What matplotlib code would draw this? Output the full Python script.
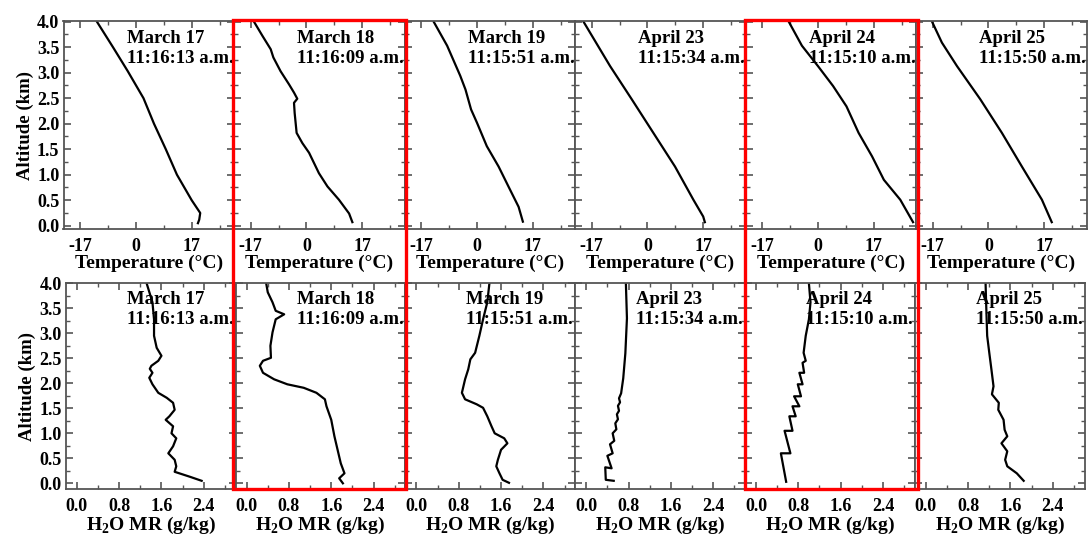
import matplotlib
matplotlib.use("Agg")
import matplotlib.pyplot as plt
from matplotlib.patches import Rectangle
from matplotlib.ticker import MultipleLocator, FixedLocator, FormatStrFormatter


plt.rcParams["font.family"] = ["Liberation Serif", "DejaVu Serif"]
plt.rcParams["font.weight"] = "bold"
plt.rcParams["axes.labelweight"] = "bold"
plt.rcParams["axes.unicode_minus"] = False
plt.rcParams["mathtext.fontset"] = "custom"
plt.rcParams["mathtext.rm"] = "Liberation Serif:bold"
plt.rcParams["mathtext.bf"] = "Liberation Serif:bold"

dates = ["March 17", "March 18", "March 19", "April 23", "April 24", "April 25"]
times = ["11:16:13 a.m.", "11:16:09 a.m.", "11:15:51 a.m.", "11:15:34 a.m.", "11:15:10 a.m.", "11:15:50 a.m."]

# temperature profiles (altitude km, temperature C)
alt_t_mar17 = [0.05, 0.12, 0.25, 0.5, 1.0, 1.5, 2.0, 2.5, 3.03, 3.5, 4.0]
temp_mar17 = [18.9, 19.3, 19.6, 17.0, 12.5, 9.1, 5.5, 2.3, -2.5, -7.0, -11.9]

alt_t_mar18 = [0.07, 0.24, 0.51, 0.77, 1.03, 1.43, 1.62, 1.82, 2.21, 2.41, 2.49, 2.61, 2.77, 3.03, 3.30, 3.46, 3.72, 4.0]
temp_mar18 = [14.0, 13.0, 9.9, 6.4, 3.8, 0.8, -1.25, -3.0, -3.6, -3.8, -2.8, -3.8, -5.3, -7.9, -10.1, -10.9, -13.4, -16.0]

alt_t_mar19 = [0.08, 0.37, 0.77, 1.16, 1.56, 2.02, 2.28, 2.67, 2.94, 3.53, 4.0]
temp_mar19 = [14.0, 12.7, 9.6, 6.6, 3.0, 0.0, -1.8, -3.5, -5.1, -9.1, -13.2]

alt_t_apr23 = [0.07, 0.18, 0.51, 1.16, 1.82, 2.48, 3.13, 4.0]
temp_apr23 = [17.5, 17.0, 14.0, 8.4, 1.8, -4.8, -11.4, -19.5]

alt_t_apr24 = [0.07, 0.51, 0.90, 1.36, 1.82, 2.34, 2.74, 3.13, 3.53, 4.0]
temp_apr24 = [29.0, 25.1, 20.1, 16.5, 12.4, 8.7, 4.6, 0.0, -4.9, -8.9]

alt_t_apr25 = [0.07, 0.51, 1.16, 1.82, 2.48, 3.13, 3.59, 4.0]
temp_apr25 = [19.3, 16.3, 10.2, 4.1, -2.5, -9.6, -14.2, -17.2]

# water vapour mixing ratio profiles (altitude km, g/kg)
alt_w_mar17 = [0.05, 0.13, 0.23, 0.34, 0.47, 0.60, 0.74, 0.90, 1.00, 1.14, 1.27, 1.34, 1.47, 1.61, 1.71, 1.81,
               1.98, 2.11, 2.21, 2.29, 2.35, 2.45, 2.55, 2.71, 2.95, 3.28, 3.62, 4.0]
mr_mar17 = [2.36, 2.14, 1.85, 1.88, 1.85, 1.73, 1.82, 1.88, 1.79, 1.82, 1.68, 1.75, 1.85, 1.82, 1.70, 1.54,
            1.43, 1.37, 1.43, 1.38, 1.41, 1.54, 1.60, 1.51, 1.46, 1.46, 1.43, 1.32]

alt_w_mar18 = [0.0, 0.10, 0.20, 0.40, 0.67, 0.94, 1.27, 1.54, 1.68, 1.81, 1.91, 1.98, 2.08, 2.21, 2.35, 2.45,
               2.51, 2.75, 3.02, 3.28, 3.38, 3.45, 3.62, 3.82, 4.0]
mr_mar18 = [1.82, 1.75, 1.85, 1.78, 1.72, 1.66, 1.60, 1.51, 1.48, 1.32, 1.08, 0.77, 0.52, 0.31, 0.25, 0.31,
            0.46, 0.45, 0.49, 0.55, 0.71, 0.55, 0.49, 0.40, 0.37]

alt_w_mar19 = [0.01, 0.07, 0.20, 0.34, 0.47, 0.67, 0.80, 0.90, 1.00, 1.14, 1.34, 1.51, 1.58, 1.68, 1.81, 2.08,
               2.28, 2.48, 2.61, 2.95, 3.28, 3.62, 4.0]
mr_mar19 = [1.75, 1.63, 1.57, 1.51, 1.54, 1.60, 1.72, 1.66, 1.48, 1.42, 1.34, 1.26, 1.14, 0.92, 0.86, 0.92,
            0.98, 1.02, 1.11, 1.19, 1.26, 1.34, 1.38]

alt_w_apr23 = [0.05, 0.07, 0.32, 0.30, 0.55, 0.60, 0.78, 0.85, 1.00, 1.08, 1.20, 1.28, 1.38, 1.45, 1.55, 1.62,
               1.70, 1.80, 2.10, 2.60, 3.30, 4.0]
mr_apr23 = [0.52, 0.37, 0.36, 0.48, 0.40, 0.50, 0.45, 0.53, 0.50, 0.57, 0.55, 0.60, 0.58, 0.62, 0.60, 0.64,
            0.62, 0.66, 0.70, 0.74, 0.77, 0.75]

alt_w_apr24 = [0.03, 0.60, 0.60, 1.05, 1.05, 1.34, 1.34, 1.54, 1.54, 1.74, 1.74, 1.98, 1.98, 2.21, 2.21, 2.41,
               2.45, 2.61, 2.95, 3.28, 3.62, 4.0]
mr_apr24 = [0.57, 0.47, 0.65, 0.54, 0.69, 0.63, 0.75, 0.69, 0.82, 0.72, 0.85, 0.79, 0.88, 0.82, 0.91, 0.88,
            0.94, 0.90, 0.94, 1.00, 1.03, 1.00]

alt_w_apr25 = [0.05, 0.20, 0.34, 0.47, 0.64, 0.80, 0.94, 1.07, 1.27, 1.47, 1.61, 1.78, 1.94, 2.28, 2.61, 2.95,
               3.62, 4.0]
mr_apr25 = [1.85, 1.72, 1.54, 1.50, 1.54, 1.43, 1.54, 1.49, 1.47, 1.37, 1.38, 1.25, 1.28, 1.24, 1.20, 1.16,
            1.14, 1.13]

temp_profiles = [(alt_t_mar17, temp_mar17), (alt_t_mar18, temp_mar18), (alt_t_mar19, temp_mar19),
                 (alt_t_apr23, temp_apr23), (alt_t_apr24, temp_apr24), (alt_t_apr25, temp_apr25)]
mr_profiles = [(alt_w_mar17, mr_mar17), (alt_w_mar18, mr_mar18), (alt_w_mar19, mr_mar19),
               (alt_w_apr23, mr_apr23), (alt_w_apr24, mr_apr24), (alt_w_apr25, mr_apr25)]

temp_ticks = [-17, 0, 17]
mr_ticks = [0.0, 0.8, 1.6, 2.4]

W, H = 1091, 538
fig = plt.figure(figsize=(W / 100, H / 100), dpi=100)

spine_color = "#555555"


def style_axes(ax, first):
    for s in ax.spines.values():
        s.set_color(spine_color)
        s.set_linewidth(1.3)
    ax.tick_params(which="both", direction="in", top=True, right=True, color=spine_color,
                   labelsize=13, pad=6)
    ax.tick_params(axis="y", pad=3)
    ax.tick_params(which="major", length=5, width=1.2)
    ax.tick_params(which="minor", length=3, width=1.0)
    ax.yaxis.set_major_locator(MultipleLocator(0.5))
    ax.yaxis.set_minor_locator(MultipleLocator(0.25))
    ax.yaxis.set_major_formatter(FormatStrFormatter("%.1f"))
    if first:
        ax.set_ylabel("Altitude (km)", fontsize=13.5, labelpad=2)
    else:
        ax.tick_params(labelleft=False)


for i in range(6):
    # temperature row
    x0 = 63.5 + i * 170.5
    ax = fig.add_axes([x0 / W, 1 - 229.3 / H, 170.5 / W, 208.6 / H])
    alt, val = temp_profiles[i]
    ax.plot(val, alt, color="black", lw=1.6)
    ax.set_xlim(-22.1, 29.9)
    ax.set_ylim(-0.07, 4.02)
    ax.xaxis.set_major_locator(FixedLocator(temp_ticks))
    ax.xaxis.set_minor_locator(FixedLocator([-8.5, 8.5, 25.5]))
    style_axes(ax, i == 0)
    ax.set_xlabel("Temperature (\u00b0C)", fontsize=14, labelpad=0)
    ax.text(0.372, 0.955, dates[i] + "\n" + times[i], transform=ax.transAxes, ha="left", va="top",
            fontsize=13.5, fontweight="bold", linespacing=1.25, clip_on=False)

    # water vapour row
    x0 = 65.7 + i * 169.8
    ax = fig.add_axes([x0 / W, 1 - 489.3 / H, 169.8 / W, 206.0 / H])
    alt, val = mr_profiles[i]
    ax.plot(val, alt, color="black", lw=1.6)
    ax.set_xlim(-0.21, 3.0)
    ax.set_ylim(-0.12, 4.0)
    ax.xaxis.set_major_locator(FixedLocator(mr_ticks))
    ax.xaxis.set_minor_locator(FixedLocator([0.4, 1.2, 2.0, 2.8]))
    style_axes(ax, i == 0)
    ax.set_xlabel(r"H$_{2}$O MR (g/kg)", fontsize=14, labelpad=0)
    ax.text(0.36, 0.965, dates[i] + "\n" + times[i], transform=ax.transAxes, ha="left", va="top",
            fontsize=13.5, fontweight="bold", linespacing=1.25, clip_on=False)

# red boxes around the highlighted days
for x_left, x_right in [(233.3, 405.7), (744.5, 917.5)]:
    rect = Rectangle((x_left / W, 1 - 489.0 / H), (x_right - x_left) / W, (489.0 - 19.5) / H,
                     transform=fig.transFigure, fill=False, edgecolor="#ff0000", linewidth=2.4,
                     zorder=10)
    fig.patches.append(rect)

fig.savefig("out.png", dpi=100)
plt.close(fig)
